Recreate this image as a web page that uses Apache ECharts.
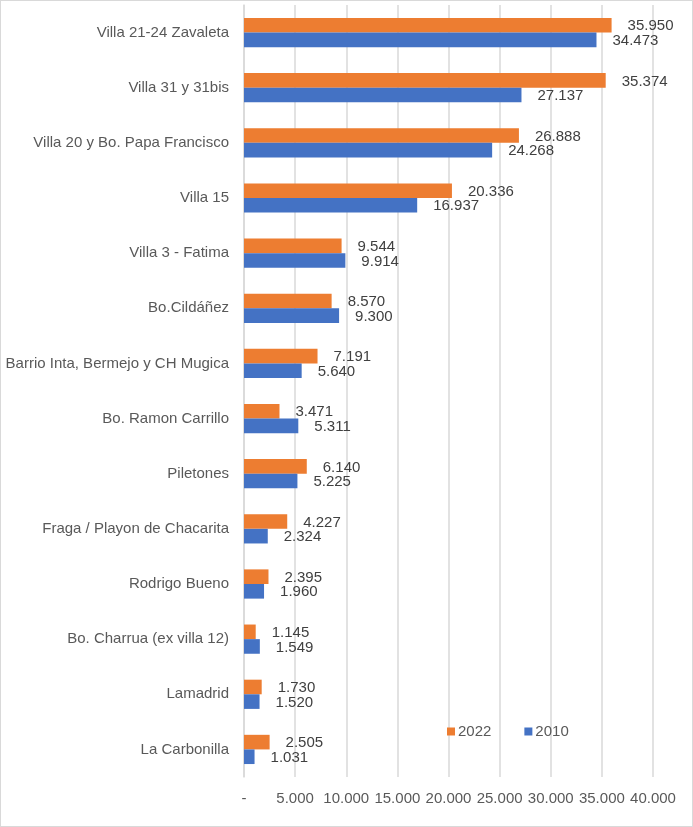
<!DOCTYPE html>
<html>
<head>
<meta charset="utf-8">
<script src="https://cdn.jsdelivr.net/npm/echarts@6/dist/echarts.min.js"></script>
<style>
  html, body { margin: 0; padding: 0; background: #fff; }
  #chart { width: 691px; height: 825px; border: 1px solid #d9d9d9; }
</style>
</head>
<body>
<div id="chart"></div>
<script>
var categories = ['Villa 21-24 Zavaleta', 'Villa 31 y 31bis', 'Villa 20 y Bo. Papa Francisco', 'Villa 15',
  'Villa 3 - Fatima', 'Bo.Cildáñez', 'Barrio Inta, Bermejo y CH Mugica', 'Bo. Ramon Carrillo',
  'Piletones', 'Fraga / Playon de Chacarita', 'Rodrigo Bueno', 'Bo. Charrua (ex villa 12)',
  'Lamadrid', 'La Carbonilla'];
var values2022 = [35950, 35374, 26888, 20336, 9544, 8570, 7191, 3471, 6140, 4227, 2395, 1145, 1730, 2505];
var values2010 = [34473, 27137, 24268, 16937, 9914, 9300, 5640, 5311, 5225, 2324, 1960, 1549, 1520, 1031];

function fmt(v) {
  if (v === 0) return '-';
  return String(v).replace(/\B(?=(\d{3})+(?!\d))/g, '.');
}

var font = 'Liberation Sans';
var myChart = echarts.init(document.getElementById('chart'));
myChart.setOption({
  animation: false,
  grid: { left: 243, right: 39, top: 4, bottom: 49, containLabel: false },
  legend: {
    data: ['2022', '2010'],
    left: 441, top: 718,
    itemWidth: 8, itemHeight: 8, itemGap: 33,
    icon: 'rect',
    textStyle: { fontFamily: font, fontSize: 15, color: '#595959', padding: [0, 0, 0, -2] }
  },
  xAxis: {
    type: 'value',
    min: 0, max: 40000, interval: 5000,
    axisLine: { show: false },
    axisTick: { show: false },
    splitLine: { lineStyle: { color: '#d9d9d9', width: 1.5 } },
    axisLabel: {
      margin: 14,
      fontFamily: font, fontSize: 15, color: '#595959',
      formatter: fmt
    }
  },
  yAxis: {
    type: 'category',
    data: categories,
    inverse: true,
    axisLine: { show: true, lineStyle: { color: '#d9d9d9', width: 1.5 } },
    axisTick: { show: false },
    axisLabel: { margin: 15, fontFamily: font, fontSize: 15, color: '#595959' }
  },
  series: [
    {
      name: '2022', type: 'bar', data: values2022,
      barGap: '0%', barCategoryGap: '47%',
      itemStyle: { color: '#ED7D31' },
      label: { show: true, position: 'right', distance: 16, offset: [0, 1],
        fontFamily: font, fontSize: 15, color: '#404040',
        formatter: function (p) { return fmt(p.value); } }
    },
    {
      name: '2010', type: 'bar', data: values2010,
      barGap: '0%', barCategoryGap: '47%',
      itemStyle: { color: '#4472C4' },
      label: { show: true, position: 'right', distance: 16, offset: [0, 1],
        fontFamily: font, fontSize: 15, color: '#404040',
        formatter: function (p) { return fmt(p.value); } }
    }
  ]
});
</script>
</body>
</html>
